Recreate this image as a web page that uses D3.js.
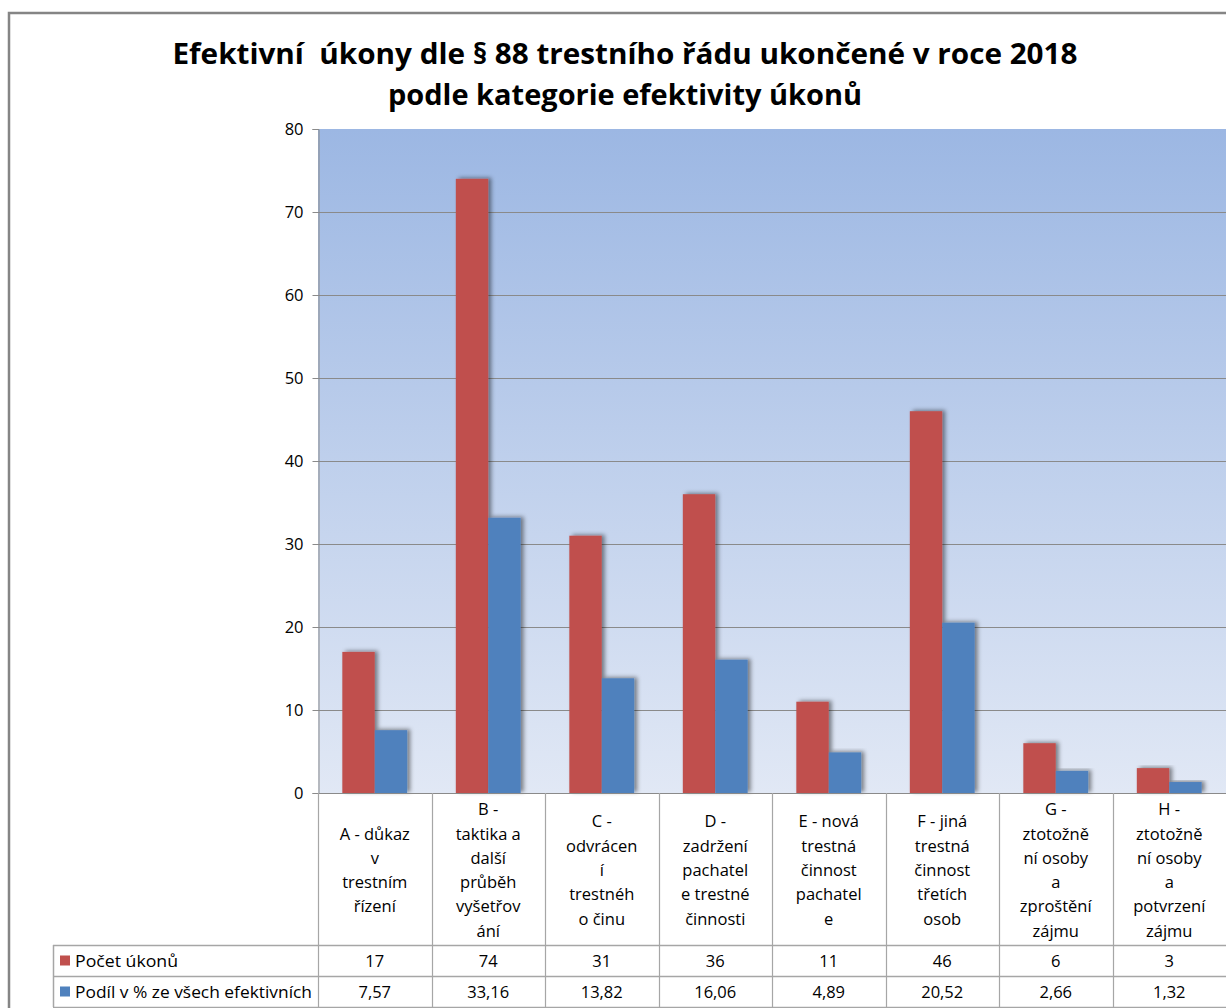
<!DOCTYPE html>
<html>
<head>
<meta charset="utf-8">
<script src="https://cdn.jsdelivr.net/npm/d3@7"></script>
<style>
  body { margin: 0; background: #fff; }
  svg { display: block; font-family: "Open Sans", "Noto Sans", sans-serif; }
  .title { white-space: pre; }
</style>
</head>
<body>
<div id="chart"></div>
<script>
// data
var categories = ["A", "B", "C", "D", "E", "F", "G", "H"];
var categoryLines = [
    ["A - důkaz", "v", "trestním", "řízení"],
    ["B -", "taktika a", "další", "průběh", "vyšetřov", "ání"],
    ["C -", "odvrácen", "í", "trestnéh", "o činu"],
    ["D -", "zadržení", "pachatel", "e trestné", "činnosti"],
    ["E - nová", "trestná", "činnost", "pachatel", "e"],
    ["F - jiná", "trestná", "činnost", "třetích", "osob"],
    ["G -", "ztotožně", "ní osoby", "a", "zproštění", "zájmu"],
    ["H -", "ztotožně", "ní osoby", "a", "potvrzení", "zájmu"]
];
var pocet = [17, 74, 31, 36, 11, 46, 6, 3];
var podil = [7.57, 33.16, 13.82, 16.06, 4.89, 20.52, 2.66, 1.32];
var podilLabels = ["7,57", "33,16", "13,82", "16,06", "4,89", "20,52", "2,66", "1,32"];
var seriesNames = ["Počet úkonů", "Podíl v % ze všech efektivních"];
var yTicks = [0, 10, 20, 30, 40, 50, 60, 70, 80];

var width = 1226,
    height = 1008;

var plot = {left: 318, right: 1226, top: 129, bottom: 793};
var table = {left: 53, row1: 945, row2: 976, row3: 1007};
var colors = ["#C0504D", "#4F81BD"];

var svg = d3.select("#chart").append("svg")
    .attr("width", width)
    .attr("height", height);

var defs = svg.append("defs");
var grad = defs.append("linearGradient")
    .attr("id", "bg")
    .attr("x1", 0).attr("y1", 0).attr("x2", 0).attr("y2", 1);
grad.append("stop").attr("offset", "0%").attr("stop-color", "#9cb7e3");
grad.append("stop").attr("offset", "100%").attr("stop-color", "#e1e8f5");

var shadow = defs.append("filter")
    .attr("id", "shadow")
    .attr("x", "-30%").attr("y", "-10%").attr("width", "160%").attr("height", "120%");
shadow.append("feDropShadow")
    .attr("dx", 3).attr("dy", -1)
    .attr("stdDeviation", 2)
    .attr("flood-color", "#000")
    .attr("flood-opacity", 0.45);

// outer chart frame
svg.append("path")
    .attr("d", "M9," + height + "V13H" + width)
    .attr("fill", "none")
    .attr("stroke", "#858585")
    .attr("stroke-width", 2.5);

// title
var title = svg.append("text")
    .attr("class", "title")
    .attr("text-anchor", "middle")
    .attr("font-weight", "bold")
    .attr("font-size", 29)
    .attr("fill", "#000");
title.append("tspan")
    .attr("x", 625).attr("y", 64)
    .attr("textLength", 905).attr("lengthAdjust", "spacingAndGlyphs")
    .text("Efektivní  úkony dle § 88 trestního řádu ukončené v roce 2018");
title.append("tspan")
    .attr("x", 625).attr("y", 105)
    .attr("textLength", 474).attr("lengthAdjust", "spacingAndGlyphs")
    .text("podle kategorie efektivity úkonů");

var x = d3.scaleBand()
    .domain(categories)
    .range([plot.left, plot.right])
    .padding(0);

var x1 = d3.scaleBand()
    .domain([0, 1])
    .range([0, x.bandwidth()])
    .paddingInner(0)
    .paddingOuter(0.75);

var y = d3.scaleLinear()
    .domain([0, 80])
    .range([plot.bottom, plot.top]);

// plot background
svg.append("rect")
    .attr("x", plot.left).attr("y", plot.top)
    .attr("width", plot.right - plot.left)
    .attr("height", plot.bottom - plot.top)
    .attr("fill", "url(#bg)");

// gridlines
svg.append("g")
    .selectAll("line")
    .data(yTicks.filter(function(d) { return d > 0 && d < 80; }))
    .enter().append("line")
    .attr("x1", plot.left).attr("x2", plot.right)
    .attr("y1", function(d) { return y(d) + 0.5; })
    .attr("y2", function(d) { return y(d) + 0.5; })
    .attr("stroke", "#8a8a8a")
    .attr("stroke-width", 1);

// bars
var groups = svg.append("g")
    .selectAll("g")
    .data(categories)
    .enter().append("g")
    .attr("transform", function(d) { return "translate(" + x(d) + ",0)"; });

groups.selectAll("rect")
    .data(function(d, i) { return [pocet[i], podil[i]]; })
    .enter().append("rect")
    .attr("x", function(d, j) { return x1(j); })
    .attr("y", function(d) { return y(d); })
    .attr("width", x1.bandwidth())
    .attr("height", function(d) { return y(0) - y(d); })
    .attr("fill", function(d, j) { return colors[j]; })
    .attr("filter", "url(#shadow)");

// y axis
var yAxis = svg.append("g")
    .attr("transform", "translate(" + (plot.left + 0.5) + ",0)")
    .call(d3.axisLeft(y).tickValues(yTicks).tickSize(6).tickPadding(9).tickFormat(d3.format("d")));
yAxis.select(".domain").attr("stroke", "#8a8a8a");
yAxis.selectAll(".tick line").attr("stroke", "#8a8a8a");
yAxis.selectAll(".tick text")
    .attr("font-size", 16.5)
    .attr("font-family", "Open Sans, sans-serif")
    .attr("fill", "#000");

// data table lines
var lineColor = "#a6a6a6";
var tbl = svg.append("g");
tbl.append("line")
    .attr("x1", plot.left).attr("x2", plot.right)
    .attr("y1", plot.bottom + 0.5).attr("y2", plot.bottom + 0.5)
    .attr("stroke", "#8a8a8a");
[table.row1, table.row2, table.row3].forEach(function(yy) {
    tbl.append("line")
        .attr("x1", table.left).attr("x2", plot.right)
        .attr("y1", yy + 0.5).attr("y2", yy + 0.5)
        .attr("stroke", lineColor).attr("stroke-width", 1.5);
});
tbl.append("line")
    .attr("x1", table.left + 0.5).attr("x2", table.left + 0.5)
    .attr("y1", table.row1).attr("y2", table.row3)
    .attr("stroke", lineColor).attr("stroke-width", 1.5);
tbl.selectAll(".vline")
    .data(categories)
    .enter().append("line")
    .attr("class", "vline")
    .attr("x1", function(d) { return Math.round(x(d)) + 0.5; })
    .attr("x2", function(d) { return Math.round(x(d)) + 0.5; })
    .attr("y1", plot.bottom).attr("y2", table.row3)
    .attr("stroke", lineColor).attr("stroke-width", 1.2);

// category labels
var lineH = 24.3;
var catLabels = svg.append("g")
    .attr("font-size", 16.5)
    .attr("fill", "#000")
    .attr("text-anchor", "middle");
catLabels.selectAll("text")
    .data(categories)
    .enter().append("text")
    .each(function(d, i) {
        var lines = categoryLines[i];
        var cy = 870 - (lines.length - 1) * lineH / 2;
        var t = d3.select(this);
        lines.forEach(function(l, k) {
            t.append("tspan")
                .attr("x", x(d) + x.bandwidth() / 2)
                .attr("y", cy + k * lineH + 6)
                .text(l);
        });
    });

// legend column + values
var rows = [
    {name: seriesNames[0], labels: pocet.map(String), y: (table.row1 + table.row2) / 2},
    {name: seriesNames[1], labels: podilLabels, y: (table.row2 + table.row3) / 2}
];
var rowG = svg.append("g").selectAll("g")
    .data(rows)
    .enter().append("g");
rowG.append("rect")
    .attr("x", 60)
    .attr("y", function(d) { return d.y - 5; })
    .attr("width", 10).attr("height", 10)
    .attr("fill", function(d, i) { return colors[i]; });
rowG.append("text")
    .attr("x", 75)
    .attr("y", function(d) { return d.y + 6; })
    .attr("font-size", 16.5)
    .attr("textLength", function(d, i) { return i ? 237 : 103; })
    .attr("lengthAdjust", "spacingAndGlyphs")
    .text(function(d) { return d.name; });
rowG.selectAll(".val")
    .data(function(d) { return d.labels.map(function(l, i) { return {l: l, c: categories[i], y: d.y}; }); })
    .enter().append("text")
    .attr("class", "val")
    .attr("x", function(d) { return x(d.c) + x.bandwidth() / 2; })
    .attr("y", function(d) { return d.y + 6; })
    .attr("text-anchor", "middle")
    .attr("font-size", 16.5)
    .text(function(d) { return d.l; });
</script>
</body>
</html>
